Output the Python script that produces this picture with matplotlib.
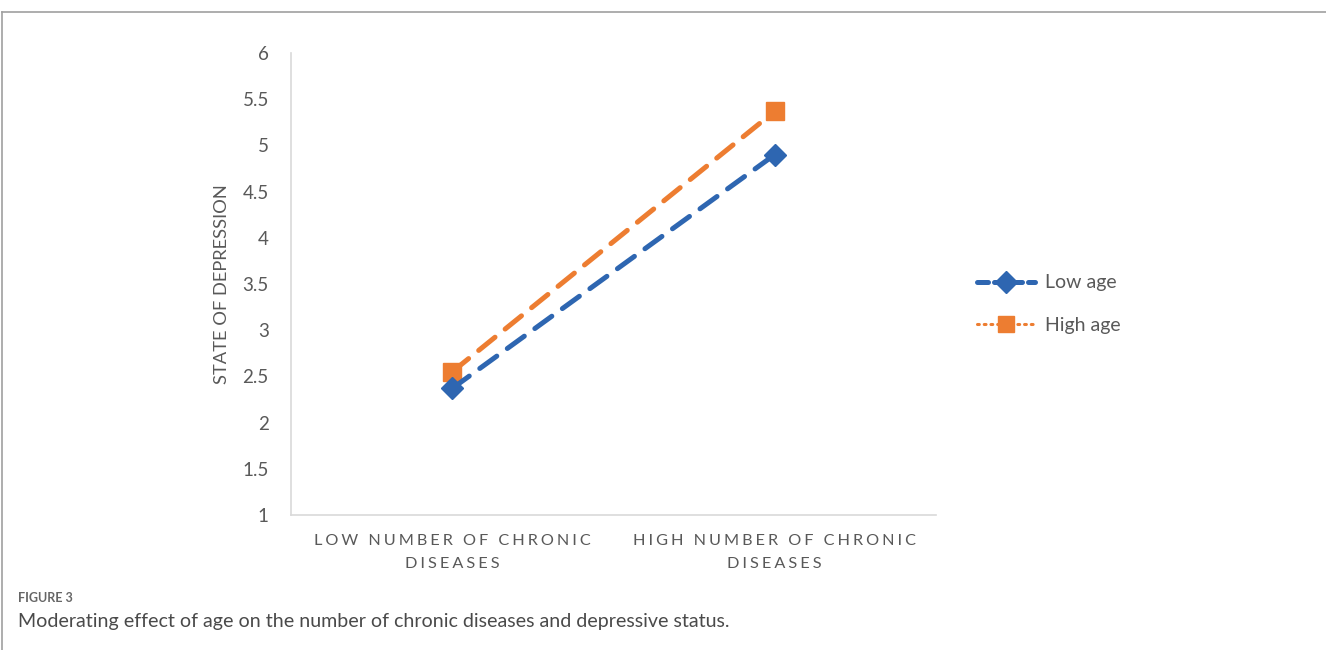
import matplotlib
matplotlib.use("Agg")
import matplotlib.pyplot as plt
from matplotlib.lines import Line2D

# Data
categories = ["LOW NUMBER OF CHRONIC\nDISEASES", "HIGH NUMBER OF CHRONIC\nDISEASES"]
low_age = [2.37, 4.90]
high_age = [2.55, 5.37]
series_names = ["Low age", "High age"]
y_ticks = [1, 1.5, 2, 2.5, 3, 3.5, 4, 4.5, 5, 5.5, 6]
y_label = "STATE OF DEPRESSION"
fig_label = "FIGURE 3"
caption = "Moderating effect of age on the number of chronic diseases and depressive status."

BLUE = "#2E66B1"
ORANGE = "#ED7D31"
GRAY = "#595959"
FONT = ["Lato", "DejaVu Sans"]

plt.rcParams["font.family"] = FONT

W, H = 1326, 650
fig = plt.figure(figsize=(W / 100, H / 100), dpi=100)
ax = fig.add_axes([291 / W, 1 - 515 / H, (936 - 291) / W, (515 - 53) / H])

x = list(range(len(categories)))
ax.plot(x, low_age, color=BLUE, lw=3.6, linestyle=(0, (4.2, 2.6)),
        dash_capstyle="round", marker="D", markersize=11, zorder=3)
ax.plot(x, high_age, color=ORANGE, lw=3.6, linestyle=(0, (4.2, 2.6)),
        dash_capstyle="round", marker="s", markersize=12.5, zorder=2)

ax.set_xlim(-0.5, len(categories) - 0.5)
ax.set_ylim(min(y_ticks), max(y_ticks))
ax.set_yticks(y_ticks)
ax.set_yticklabels([f"{t:g}" for t in y_ticks])
ax.tick_params(axis="y", length=0, pad=16, labelsize=13.5, labelcolor=GRAY)
ax.set_xticks([])

# Letter-spaced category labels
def spaced(s):
    return "\n".join("\u2009\u200a".join(line) for line in s.split("\n"))

for xi, cat in zip(x, categories):
    ax.text(xi, -0.042, spaced(cat), transform=ax.get_xaxis_transform(),
            ha="center", va="top", fontsize=11.7, color=GRAY,
            linespacing=1.75, family=FONT)

ax.set_ylabel(y_label, fontsize=13.2, color=GRAY, labelpad=9)

for side in ["top", "right"]:
    ax.spines[side].set_visible(False)
for side in ["left", "bottom"]:
    ax.spines[side].set_color("#D9D9D9")
    ax.spines[side].set_linewidth(1.2)

# Legend
handles = [
    Line2D([], [], color=BLUE, lw=3.6, linestyle=(0, (2.2, 1.2)),
           dash_capstyle="round", marker="D", markersize=11),
    Line2D([], [], color=ORANGE, lw=2.2, linestyle=(0, (0.6, 1.6)),
           dash_capstyle="round", marker="s", markersize=12),
]
fig.legend(handles, series_names, loc="center left",
           bbox_to_anchor=(959 / W, 1 - 304 / H), frameon=False,
           fontsize=14, labelcolor=GRAY, handlelength=3.0,
           handletextpad=0.5, labelspacing=1.3)

# Page frame
fig.add_artist(Line2D([2 / W, 1], [1 - 11.5 / H, 1 - 11.5 / H],
                      transform=fig.transFigure, color="#A0A0A0", lw=1.2))
fig.add_artist(Line2D([2 / W, 2 / W], [0, 1 - 11.5 / H],
                      transform=fig.transFigure, color="#A0A0A0", lw=1.2))

fig.text(18 / W, 1 - 598 / H, fig_label, fontsize=9, fontweight="bold",
         color="#666666", va="center", ha="left")
fig.text(18 / W, 1 - 621 / H, caption, fontsize=14.1,
         color="#4A4A4A", va="center", ha="left")

fig.savefig("out.png", dpi=100, facecolor="white")
